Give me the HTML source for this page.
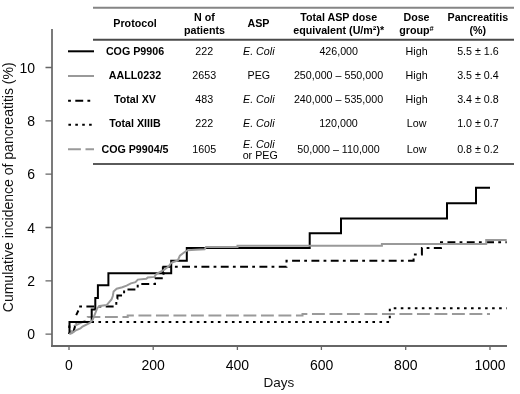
<!DOCTYPE html>
<html><head><meta charset="utf-8">
<style>
html,body{margin:0;padding:0;background:#fff;}
body{width:520px;height:394px;overflow:hidden;position:relative;}
svg{position:absolute;left:0;top:0;display:block;will-change:transform;}
text{font-family:"Liberation Sans",sans-serif;fill:#000;}
.ax{font-size:14px;fill:#111;}
.yl{font-size:14px;fill:#111;}
.th{font-size:10.7px;font-weight:bold;}
.tb{font-size:10.7px;font-weight:bold;}
.td{font-size:10.7px;}
.it{font-style:italic;}
</style></head>
<body>
<svg width="520" height="394" viewBox="0 0 520 394">
<!-- axes -->
<g fill="none" stroke-width="2">
<path stroke="#7b7b7b" d="M52,29 V345"/>
<path stroke="#666" d="M51,346 H507"/>
</g>
<g fill="none" stroke="#666" stroke-width="1.3">
<path d="M45.5,334.2 H52 M45.5,280.9 H52 M45.5,227.5 H52 M45.5,174.2 H52 M45.5,120.9 H52 M45.5,67.5 H52"/>
<path d="M69,346 V350 M153.2,346 V350 M237.4,346 V350 M321.4,346 V350 M405.7,346 V350 M490,346 V350"/>
</g>
<!-- y tick labels -->
<g class="ax" text-anchor="end">
<text x="35" y="339.4">0</text>
<text x="35" y="286.1">2</text>
<text x="35" y="232.7">4</text>
<text x="35" y="179.4">6</text>
<text x="35" y="126.1">8</text>
<text x="35" y="72.7">10</text>
</g>
<!-- x tick labels -->
<g class="ax" text-anchor="middle">
<text x="69" y="369.7">0</text>
<text x="153.2" y="369.7">200</text>
<text x="237.4" y="369.7">400</text>
<text x="321.6" y="369.7">600</text>
<text x="405.8" y="369.7">800</text>
<text x="490" y="369.7">1000</text>
</g>
<text class="ax" x="278.8" y="386.7" text-anchor="middle" style="font-size:13.5px">Days</text>
<text class="yl" transform="translate(13.3,187.3) rotate(-90)" text-anchor="middle">Cumulative incidence of pancreatitis (%)</text>

<!-- curves -->
<g fill="none" stroke-width="2" stroke-linejoin="miter" stroke-linecap="butt">
<!-- COG P9904/5 dashed grey -->
<path stroke="#9a9a9a" stroke-dasharray="12.9 4.6" stroke-dashoffset="8.47" d="M69.3,334 L74.5,325.8 L87.8,319.6 V317.1 H127.7 V315.6 H302.5 V314.1 H490"/>
<!-- Total XIIIB dotted -->
<path stroke="#000" stroke-dasharray="2.6 4.425" stroke-dashoffset="1.0" d="M69.3,334 V322 H389.8 V308.2 H506.7"/>
<!-- Total XV dash-dot -->
<path stroke="#000" d="M73.3,332 L75.1,326.1 M75.9,323.3 L76.1,321 M76.2,315.1 L78.4,310.5 M162.9,273 V266.5"/>
<path stroke="#000" stroke-dasharray="2.8 4.4 7.9 4.23" stroke-dashoffset="19.13" d="M79,306.4 H116.3 V298.7 H117.4 V295.5 H124.1 V289.5 H137.7 V284 H155 V278.2 H163.5 V266.8 H286.5 V260.8 H413.6 V254.5 H421.9 V247.9 H441 V242.2 H506.7"/>
<!-- COG P9906 black -->
<path stroke="#000" d="M69.5,334 V322 H91.7 V309.5 H95.3 V298 H97.9 V285.2 H108.4 V273.2 H171.2 V260.8 H186.8 V248 H309.7 V233.2 H341 V218.5 H447 V203.3 H476 V187.7 H490"/>
<!-- AALL0232 grey solid -->
<path stroke="#999" d="M69.3,334 L72,333 L75.3,330.6 L80.4,328.5 L82.5,326.5 L89.8,322.9 L92.7,319.7 L95,313.9 L97.3,308 L99.7,306 L106.7,305.1 L108.6,302.8 L111.5,299.5 L112.8,296 L113.6,291.4 L116.7,288.7 L122.3,287.3 L126.6,285.6 L130.9,283.4 L135.5,282.2 L137.8,279.6 L146.3,278.8 L147.8,277.4 L154.4,276.9 L156,274.4 L157.5,273.3 L163.6,270.2 L168.4,266.5 L171,263.2 L172.7,262.2 L177.8,260.4 L179.9,255.6 L184.4,252.2 L187.5,250.2 L195.6,249.8 L204.6,249.2 L206,247 H237.5 V245.7 H381.9 V243.9 H486.2 V240.1 H506.7"/>
</g>

<!-- table rules -->
<g fill="none" stroke="#666" stroke-width="2">
<path d="M93,7.8 H514" stroke="#858585"/>
<path d="M93,39.7 H514" stroke="#4a4a4a"/>
<path d="M93,164 H514" stroke="#5a5a5a"/>
</g>
<!-- legend lines -->
<g fill="none" stroke-width="2">
<path stroke="#000" d="M68,51.3 H94"/>
<path stroke="#999" d="M68,76 H94"/>
<path stroke="#000" stroke-dasharray="2.8 4.4 7.9 4.23" d="M68.1,100.7 H94"/>
<path stroke="#000" stroke-dasharray="2.6 4.3" d="M68.4,124.8 H94"/>
<path stroke="#9a9a9a" stroke-dasharray="12.9 4.6" d="M68,149.2 H94"/>
</g>

<!-- table header -->
<g class="th" text-anchor="middle">
<text x="135" y="26.9">Protocol</text>
<text x="204.5" y="20.8">N of</text>
<text x="204.5" y="34">patients</text>
<text x="258.5" y="26.9">ASP</text>
<text x="338.7" y="20.8">Total ASP dose</text>
<text x="338.7" y="34">equivalent (U/m²)*</text>
<text x="416.5" y="20.8">Dose</text>
<text x="416.5" y="34">group<tspan font-size="7.5" dy="-2.6">#</tspan></text>
<text x="477.8" y="20.8">Pancreatitis</text>
<text x="477.8" y="34">(%)</text>
</g>
<!-- rows -->
<g class="tb" text-anchor="middle">
<text x="135" y="54.9">COG P9906</text>
<text x="135" y="78.8">AALL0232</text>
<text x="135" y="102.8">Total XV</text>
<text x="135" y="126.8">Total XIIIB</text>
<text x="135" y="152.6">COG P9904/5</text>
</g>
<g class="td" text-anchor="middle">
<text x="204.2" y="54.9">222</text>
<text x="204.2" y="78.8">2653</text>
<text x="204.2" y="102.8">483</text>
<text x="204.2" y="126.8">222</text>
<text x="204.2" y="152.6">1605</text>

<text class="it" x="258.8" y="54.9">E. Coli</text>
<text x="258.8" y="78.8">PEG</text>
<text class="it" x="258.8" y="102.8">E. Coli</text>
<text class="it" x="258.8" y="126.8">E. Coli</text>
<text class="it" x="258.8" y="148">E. Coli</text>
<text x="260.2" y="159">or PEG</text>

<text x="338.7" y="54.9">426,000</text>
<text x="338.5" y="78.8">250,000 – 550,000</text>
<text x="338.5" y="102.8">240,000 – 535,000</text>
<text x="338.5" y="126.8">120,000</text>
<text x="338.5" y="152.6">50,000 – 110,000</text>

<text x="416.6" y="54.9">High</text>
<text x="416.6" y="78.8">High</text>
<text x="416.6" y="102.8">High</text>
<text x="416.6" y="126.8">Low</text>
<text x="416.6" y="152.6">Low</text>

<text x="477.9" y="54.9">5.5 ± 1.6</text>
<text x="477.9" y="78.8">3.5 ± 0.4</text>
<text x="477.9" y="102.8">3.4 ± 0.8</text>
<text x="477.9" y="126.8">1.0 ± 0.7</text>
<text x="477.9" y="152.6">0.8 ± 0.2</text>
</g>
</svg>
</body></html>
